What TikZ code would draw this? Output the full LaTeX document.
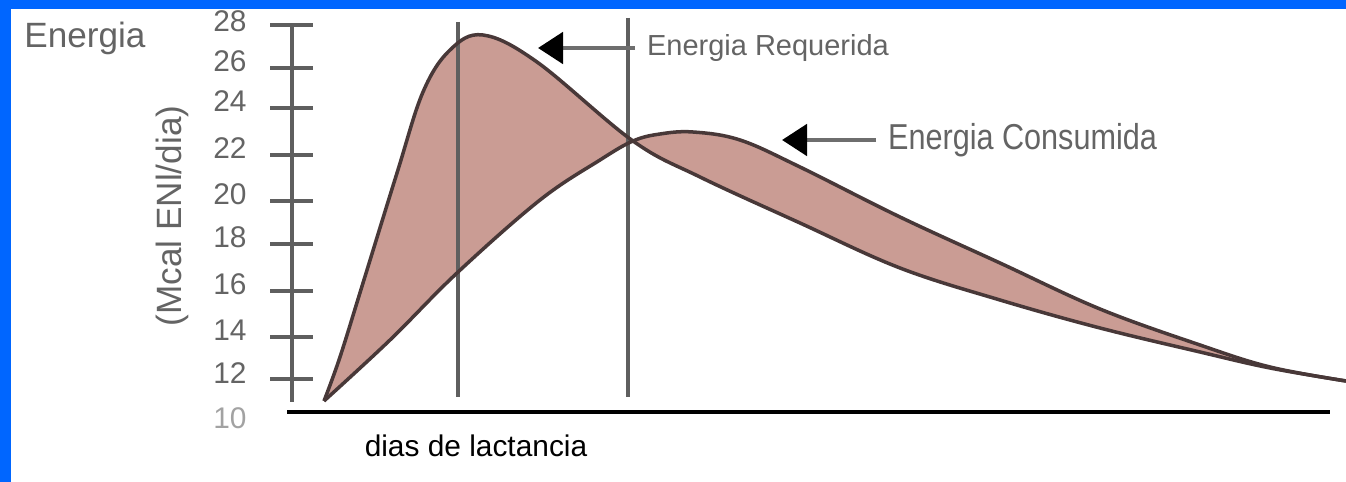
\documentclass[tikz,border=0pt]{standalone}
\usepackage{fontspec}
\setmainfont{Liberation Sans}
\usetikzlibrary{arrows.meta}
\definecolor{borde}{RGB}{0,102,255}
\definecolor{relleno}{RGB}{202,156,148}
\definecolor{curva}{RGB}{72,56,56}
\definecolor{guia}{RGB}{95,95,95}
\definecolor{gristxt}{RGB}{100,100,100}
\definecolor{flecha}{RGB}{110,110,110}

\begin{document}
\begin{tikzpicture}[
    x=0.02cm,y=-0.02cm,
    >={Triangle[length=0.5cm,width=0.62cm,color=black]},
    curve/.style={draw=curva,line width=2pt},
    guide/.style={draw=guia,line width=2.3pt},
    tick/.style={draw=guia,line width=2.1pt},
    ticklbl/.style={text=gristxt,font=\fontsize{17}{17}\selectfont,inner sep=0pt},
    lbl/.style={text=gristxt,inner sep=1pt},
    pointer/.style={->,draw=flecha,line width=2.8pt,shorten <=0.2cm}]
    \useasboundingbox (0,0) rectangle (1346,482);

    % area between the two curves
    \fill[relleno] plot[smooth,tension=0.6] coordinates {(324,401) (340,357) (363,283) (397,173) (423,92) (450,50) (483,35) (537,62) (633,141) (700,177) (800,223) (900,268) (1000,300) (1100,328) (1200,352) (1270,368) (1346,381)}
      --plot[smooth,tension=0.6] coordinates {(1346,381) (1270,367) (1200,345) (1100,309) (1000,263) (900,217) (800,167) (740,140) (693,132) (660,134) (633,141) (600,160) (540,200) (457,273) (390,340) (324,401)} -- cycle;

    \draw[guide] (458,22) -- (458,397);
    \draw[guide] (628,18) -- (628,397);

    % energia requerida
    \draw[curve] plot[smooth,tension=0.6] coordinates {(324,401) (340,357) (363,283) (397,173) (423,92) (450,50) (483,35) (537,62) (633,141) (700,177) (800,223) (900,268) (1000,300) (1100,328) (1200,352) (1270,368) (1346,381)};
    % energia consumida
    \draw[curve] plot[smooth,tension=0.6] coordinates {(324,401) (390,340) (457,273) (540,200) (600,160) (633,141) (660,134) (693,132) (740,140) (800,167) (900,217) (1000,263) (1100,309) (1200,345) (1270,367) (1346,381)};

    % axes
    \draw[tick] (292,25) -- (292,402);
    \draw[line width=2.4pt] (287,412) -- (1330,412);

    \draw[tick] (270,25) -- (313,25);
    \draw[tick] (270,68) -- (313,68);
    \draw[tick] (270,108) -- (313,108);
    \draw[tick] (270,155) -- (313,155);
    \draw[tick] (270,201) -- (313,201);
    \draw[tick] (270,244) -- (313,244);
    \draw[tick] (270,291) -- (313,291);
    \draw[tick] (270,337) -- (313,337);
    \draw[tick] (270,379) -- (313,379);

    \node[ticklbl] (v28) at (230,21) {28};
    \node[ticklbl] (v26) at (230,61) {26};
    \node[ticklbl] (v24) at (230,101) {24};
    \node[ticklbl] (v22) at (230,148) {22};
    \node[ticklbl] (v20) at (230,194) {20};
    \node[ticklbl] (v18) at (230,237) {18};
    \node[ticklbl] (v16) at (230,284) {16};
    \node[ticklbl] (v14) at (230,330) {14};
    \node[ticklbl] (v12) at (230,373) {12};
    \node[ticklbl,text=gristxt!60] (v10) at (230,418) {10};

    \node[lbl,font=\fontsize{20}{20}\selectfont] (titulo) at (85,38) {Energia};
    \node[lbl,font=\fontsize{20}{20}\selectfont,rotate=90] (unidad) at (172,216) {(Mcal ENl/dia)};
    \node[inner sep=1pt,font=\fontsize{17}{17}\selectfont,anchor=base] (dias) at (476,457) {dias de lactancia};

    % labels and pointers
    \coordinate (reqtip) at (538,48);
    \coordinate (contip) at (782,140);
    \node[lbl,font=\fontsize{16.5}{16.5}\selectfont,anchor=west] (req) at (645,48) {Energia Requerida};
    \node[lbl,font=\fontsize{20.5}{20.5}\selectfont,anchor=west] (con) at (886,140) {\scalebox{0.85}[1]{Energia Consumida}};
    \draw[pointer] (req.west) -- (reqtip);
    \draw[pointer] (con.west) -- (contip);

    % frame
    \fill[borde] (0,0) rectangle (1346,9);
    \fill[borde] (0,0) rectangle (11,482);
\end{tikzpicture}
\end{document}
